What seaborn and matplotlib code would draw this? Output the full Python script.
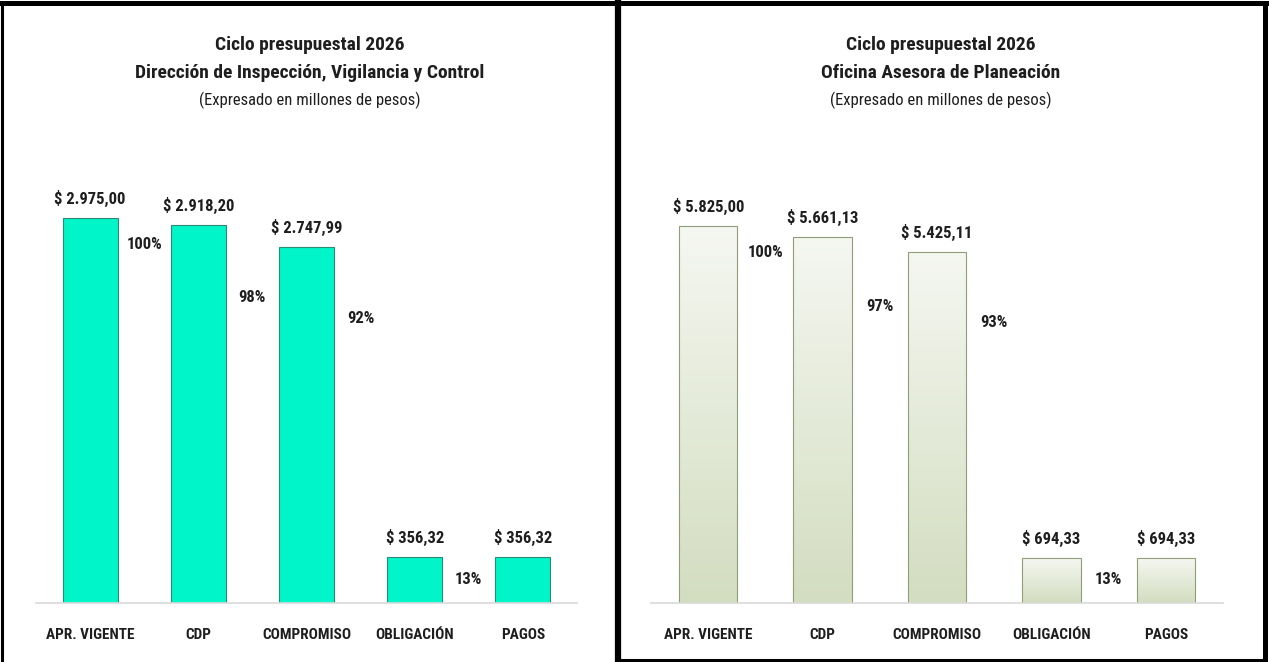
import numpy as np
import pandas as pd
import matplotlib
matplotlib.use("Agg")
import matplotlib.pyplot as plt
import seaborn as sns
from matplotlib.colors import LinearSegmentedColormap
from matplotlib.lines import Line2D
from matplotlib import font_manager

# data
categories = ["APR. VIGENTE", "CDP", "COMPROMISO", "OBLIGACIÓN", "PAGOS"]
left_title = "Dirección de Inspección, Vigilancia y Control"
left_values = [2975.00, 2918.20, 2747.99, 356.32, 356.32]
left_value_labels = ["$ 2.975,00", "$ 2.918,20", "$ 2.747,99", "$ 356,32", "$ 356,32"]
left_pct_labels = ["100%", "98%", "92%", "13%"]

right_title = "Oficina Asesora de Planeación"
right_values = [5825.00, 5661.13, 5425.11, 694.33, 694.33]
right_value_labels = ["$ 5.825,00", "$ 5.661,13", "$ 5.425,11", "$ 694,33", "$ 694,33"]
right_pct_labels = ["100%", "97%", "93%", "13%"]

# layout: height of each % label as a share of the bar to its left
pct_frac = [0.93, 0.81, 0.80, 0.52]

sns.set_style("white")
names = {f.name for f in font_manager.fontManager.ttflist}
narrow = [n for n in ["Liberation Sans Narrow", "Roboto Condensed", "Open Sans Condensed"]
          if n in names]
plt.rcParams["font.family"] = narrow + ["Liberation Sans", "DejaVu Sans"]
# shrink sizes when no condensed face is available
k = 1.0 if narrow else 0.86
TXT = "#1e1e1e"

W, H = 1269, 662
fig = plt.figure(figsize=(W / 100, H / 100), dpi=100)


def px_axes(x0, x1, ytop, ybot):
    return fig.add_axes([x0 / W, 1 - ybot / H, (x1 - x0) / W, (ybot - ytop) / H])


def draw_panel(ax, values, vlabels, plabels, ymax, face, gradient=None):
    df = pd.DataFrame({"cat": categories, "val": values})
    sns.barplot(data=df, x="cat", y="val", ax=ax, color=face, width=0.51,
                saturation=1, edgecolor=face if gradient is None else "#8f9d78",
                linewidth=0.8)
    if gradient is None:
        for p in ax.patches:
            p.set_edgecolor("#2b8a74")
    else:
        cmap = LinearSegmentedColormap.from_list("g", gradient)
        grad = np.linspace(0, 1, 256).reshape(-1, 1)
        for p in ax.patches:
            x, w, h = p.get_x(), p.get_width(), p.get_height()
            p.set_facecolor("none")
            im = ax.imshow(grad, extent=[x, x + w, 0, h], origin="upper",
                           aspect="auto", cmap=cmap, zorder=p.get_zorder() - 0.1)
            im.set_clip_path(p)
    ax.set_xlim(-0.5, 4.5)
    ax.set_ylim(0, ymax)
    ax.set_xlabel("")
    ax.set_ylabel("")
    ax.set_yticks([])
    for s in ["top", "right", "left"]:
        ax.spines[s].set_visible(False)
    ax.spines["bottom"].set_color("#d9d9d9")
    ax.spines["bottom"].set_linewidth(1.2)
    ax.tick_params(axis="x", length=0, pad=18)
    for t in ax.get_xticklabels():
        t.set_fontsize(11 * k)
        t.set_fontweight("bold")
        t.set_color(TXT)
    for i, (v, lab) in enumerate(zip(values, vlabels)):
        ax.annotate(lab, (i, v), xytext=(0, 8), textcoords="offset points",
                    ha="center", va="bottom", fontsize=12 * k, fontweight="bold",
                    color=TXT)
    for i, lab in enumerate(plabels):
        ax.text(i + 0.5, values[i] * pct_frac[i], lab, ha="center", va="center",
                fontsize=12 * k, fontweight="bold", color=TXT)


def titles(xc, name):
    fig.text(xc / W, 1 - 45 / H, "Ciclo presupuestal 2026", ha="center",
             va="center", fontsize=14 * k, fontweight="bold", color=TXT)
    fig.text(xc / W, 1 - 73 / H, name, ha="center", va="center", fontsize=14 * k,
             fontweight="bold", color=TXT)
    fig.text(xc / W, 1 - 100 / H, "(Expresado en millones de pesos)",
             ha="center", va="center", fontsize=12 * k, color=TXT)


ax1 = px_axes(36, 577, 150, 603)
draw_panel(ax1, left_values, left_value_labels, left_pct_labels, 3500, "#00f5c8")
ax2 = px_axes(651, 1223, 150, 603)
draw_panel(ax2, right_values, right_value_labels, right_pct_labels, 7000,
           "#e4ead8", gradient=["#f5f7f1", "#d3ddc0"])

titles(310, left_title)
titles(941, right_title)

# panel frames
def fline(x0, y0, x1, y1, lw=3.6):
    fig.add_artist(Line2D([x0 / W, x1 / W], [1 - y0 / H, 1 - y1 / H],
                          transform=fig.transFigure, color="black", lw=lw,
                          solid_capstyle="projecting"))

fline(0, 3, W, 3)
fline(2, 3, 2, H, lw=2.2)
fline(618, 3, 618, H, lw=4.5)
fline(1265, 3, 1265, 660)
fline(618, 660, 1265, 660, lw=2.2)

fig.savefig("out.png", dpi=100, facecolor="white")
